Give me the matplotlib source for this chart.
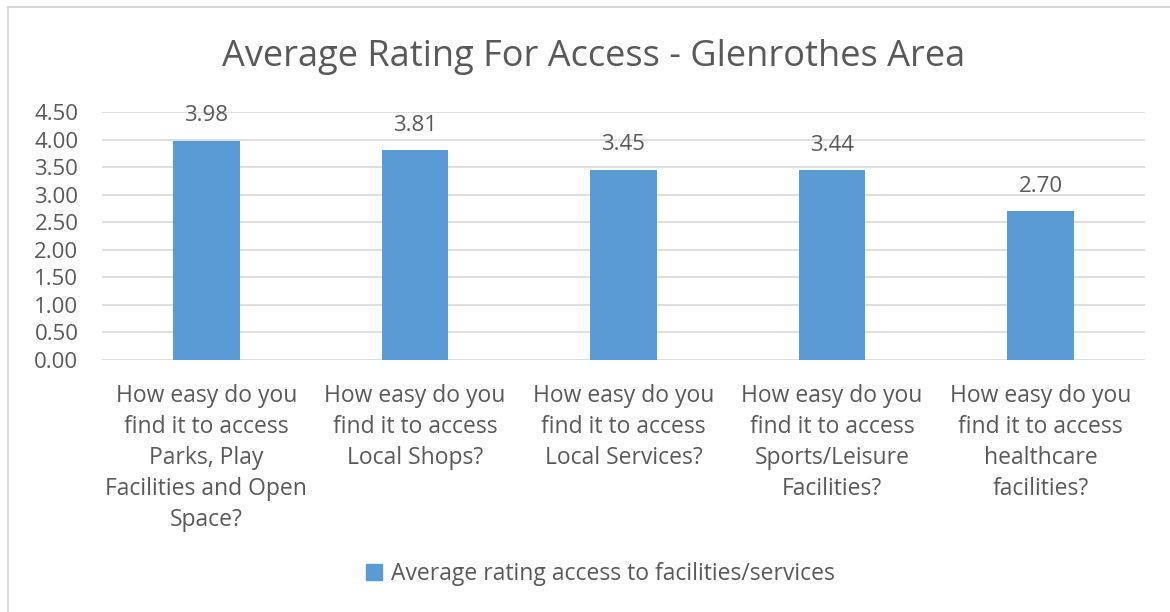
import matplotlib.pyplot as plt
import matplotlib.patches as mpatches

categories = [
    "How easy do you\nfind it to access\nParks, Play\nFacilities and Open\nSpace?",
    "How easy do you\nfind it to access\nLocal Shops?",
    "How easy do you\nfind it to access\nLocal Services?",
    "How easy do you\nfind it to access\nSports/Leisure\nFacilities?",
    "How easy do you\nfind it to access\nhealthcare\nfacilities?",
]
ratings = [3.98, 3.81, 3.45, 3.44, 2.70]
yticks = [0, 0.5, 1, 1.5, 2, 2.5, 3, 3.5, 4, 4.5]
series_name = "Average rating access to facilities/services"

plt.rcParams['font.family'] = ['Open Sans', 'DejaVu Sans']
txt = '#595959'
blue = '#5B9BD5'

fig = plt.figure(figsize=(11.7, 6.12), dpi=100)
ax = fig.add_axes([0.0872, 0.4118, 0.8914, 0.4052])

x = range(len(ratings))
ax.bar(x, ratings, width=0.32, color=blue, zorder=2)
for i, v in zip(x, ratings):
    ax.annotate("%.2f" % v, (i, v), xytext=(0, 18), textcoords='offset points',
                ha='center', va='center', fontsize=16, color=txt)

ax.set_xlim(-0.5, len(ratings) - 0.5)
ax.set_ylim(0, 4.5)
ax.set_yticks(yticks)
ax.set_yticklabels(["%.2f" % t for t in yticks], fontsize=16, color=txt)
ax.set_xticks(list(x))
ax.set_xticklabels(categories, fontsize=16.5, color=txt, linespacing=1.4, va='top')
ax.tick_params(axis='both', length=0)
ax.tick_params(axis='x', pad=17)
ax.tick_params(axis='y', pad=17)
ax.grid(axis='y', color='#D9D9D9', linewidth=1.2, zorder=0)
for s in ax.spines.values():
    s.set_visible(False)

fig.text(0.507, 0.907, "Average Rating For Access - Glenrothes Area",
         ha='center', va='center', fontsize=26, color=txt)

handle = mpatches.Patch(color=blue, label=series_name)
fig.legend(handles=[handle], loc='center', bbox_to_anchor=(0.513, 0.062),
           frameon=False, fontsize=16.5, labelcolor=txt, handlelength=0.7,
           handleheight=0.7, handletextpad=0.4)

# outer chart frame
fig.patches.append(mpatches.Rectangle((8 / 1170, -0.01), 1.02, 1 - 7 / 612 + 0.01,
                                      transform=fig.transFigure, fill=False,
                                      edgecolor='#D9D9D9', linewidth=1.5))

fig.savefig('out.png', dpi=100)
